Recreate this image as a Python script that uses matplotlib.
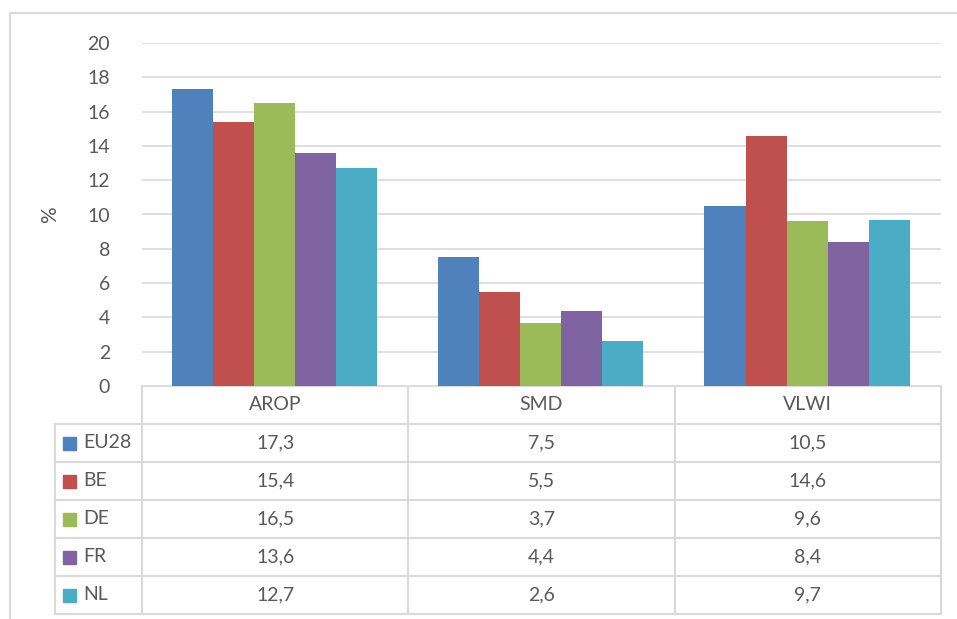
import matplotlib.pyplot as plt
import numpy as np

categories = ['AROP', 'SMD', 'VLWI']
countries = ['EU28', 'BE', 'DE', 'FR', 'NL']
values = {
    'EU28': [17.3, 7.5, 10.5],
    'BE': [15.4, 5.5, 14.6],
    'DE': [16.5, 3.7, 9.6],
    'FR': [13.6, 4.4, 8.4],
    'NL': [12.7, 2.6, 9.7],
}
colors = ['#4F81BD', '#C0504D', '#9BBB59', '#8064A2', '#4BACC6']
yticks = [0, 2, 4, 6, 8, 10, 12, 14, 16, 18, 20]

plt.rcParams['font.family'] = ['Lato', 'DejaVu Sans']
text_color = '#595959'
line_color = '#D9D9D9'

W, H = 957, 619
fig = plt.figure(figsize=(W / 100, H / 100), dpi=100)

# pixel helpers
def fx(px):
    return px / W

def fy(py):
    return 1 - py / H

# outer frame
frame = fig.add_axes([0, 0, 1, 1])
frame.set_xlim(0, W)
frame.set_ylim(H, 0)
frame.axis('off')
frame.plot([10, 10, W], [H, 13, 13], color=line_color, lw=1.5)

# chart area
left, right, top, bottom = 142, 941, 43, 386
ax = fig.add_axes([fx(left), fy(bottom), fx(right - left), (bottom - top) / H])
x = np.arange(len(categories))
bw = 0.154
for i, c in enumerate(countries):
    ax.bar(x + (i - 2) * bw - 0.003, values[c], width=bw, color=colors[i], zorder=3)
ax.set_xlim(-0.5, len(categories) - 0.5)
ax.set_ylim(0, 20)
ax.set_yticks(yticks)
ax.set_yticklabels([str(t) for t in yticks], fontsize=14, color=text_color)
ax.yaxis.grid(True, color=line_color, lw=1.2, zorder=0)
ax.tick_params(axis='y', length=0, pad=23)
ax.set_xticks([])
for s in ax.spines.values():
    s.set_visible(False)
ax.set_ylabel('%', fontsize=15, color=text_color, labelpad=20)

# data table
row_h = 38
t_left = 55
col_w = (right - left) / len(categories)
rows_y = [bottom + row_h * k for k in range(len(countries) + 2)]
lw = 1.5
frame.plot([left, right], [bottom, bottom], color=line_color, lw=lw)
for k in range(1, len(rows_y)):
    frame.plot([t_left, right], [rows_y[k], rows_y[k]], color=line_color, lw=lw)
frame.plot([t_left, t_left], [rows_y[1], rows_y[-1]], color=line_color, lw=lw)
for j in range(len(categories) + 1):
    frame.plot([left + j * col_w] * 2, [bottom, rows_y[-1]], color=line_color, lw=lw)

for j, cat in enumerate(categories):
    frame.text(left + (j + 0.5) * col_w, (rows_y[0] + rows_y[1]) / 2, cat,
               ha='center', va='center', fontsize=14, color=text_color)

for i, c in enumerate(countries):
    yc = (rows_y[i + 1] + rows_y[i + 2]) / 2
    frame.add_patch(plt.Rectangle((63, yc - 6.5), 13, 13, color=colors[i]))
    frame.text(83, yc, c, ha='left', va='center', fontsize=14, color=text_color)
    for j in range(len(categories)):
        label = f'{values[c][j]:.1f}'.replace('.', ',')
        frame.text(left + (j + 0.5) * col_w, yc, label,
                   ha='center', va='center', fontsize=14, color=text_color)

fig.savefig('out.png', dpi=100)
